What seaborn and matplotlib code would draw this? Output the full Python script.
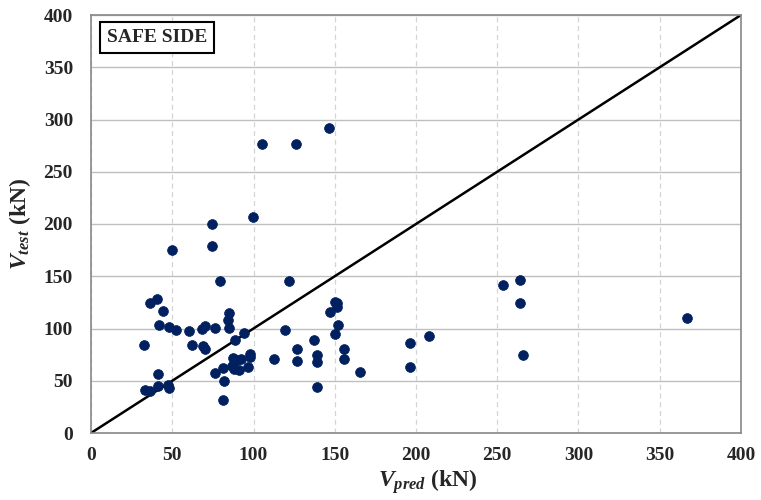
import matplotlib
matplotlib.use('Agg')
import matplotlib.pyplot as plt
import seaborn as sns
import pandas as pd

# Predicted vs. tested shear capacity (kN)
v_pred = [33.2, 36.3, 41.4, 47.6, 48.2, 41.4, 32.8, 36.3, 40.4, 44.0,
          41.8, 48.2, 52.3, 60.0, 62.2, 69.1, 69.9, 68.5, 70.2, 76.5,
          79.4, 84.9, 84.5, 84.9, 88.6, 94.0, 97.8, 97.8, 112.6, 76.5,
          81.4, 81.8, 81.4, 87.6, 89.6, 92.3, 86.6, 88.2, 91.3, 96.4,
          122.0, 150.2, 151.6, 151.2, 147.1, 152.0, 150.0, 119.4, 137.4, 127.0,
          127.0, 138.9, 138.9, 138.9, 155.9, 155.9, 165.5, 49.8, 74.7, 74.7,
          99.5, 105.0, 126.2, 146.7, 196.3, 196.3, 208.0, 253.7, 263.8, 263.8,
          265.8, 366.5]
v_test = [41.1, 40.5, 45.0, 46.0, 42.7, 56.0, 84.0, 124.7, 128.0, 116.7,
          103.3, 101.0, 99.0, 97.6, 84.0, 83.0, 80.0, 99.5, 102.4, 100.8,
          145.7, 114.5, 108.0, 100.2, 89.0, 95.4, 76.0, 73.0, 71.1, 57.7,
          62.0, 49.8, 31.6, 72.0, 69.9, 70.8, 64.0, 61.0, 60.3, 62.9,
          145.7, 125.6, 124.0, 120.9, 116.0, 103.3, 94.7, 98.6, 89.0, 80.0,
          69.2, 74.3, 68.2, 44.3, 80.0, 70.5, 58.0, 175.0, 200.0, 179.0,
          206.4, 276.3, 276.6, 292.2, 86.4, 62.9, 92.8, 141.3, 146.7, 124.4,
          74.6, 110.3]

ticks = [0, 50, 100, 150, 200, 250, 300, 350, 400]

df = pd.DataFrame({'v_pred': v_pred, 'v_test': v_test})

sns.set_style('white')
plt.rcParams['font.family'] = ['Liberation Serif', 'DejaVu Serif']
plt.rcParams['font.weight'] = 'bold'
plt.rcParams['mathtext.fontset'] = 'custom'
plt.rcParams['mathtext.rm'] = 'Liberation Serif:bold'
plt.rcParams['mathtext.it'] = 'Liberation Serif:bold:italic'
plt.rcParams['mathtext.bf'] = 'Liberation Serif:bold'

fig = plt.figure(figsize=(7.61, 5.0), dpi=100)
ax = fig.add_axes([0.1196, 0.134, 0.8541, 0.836])

# grid: solid horizontal, dashed vertical
for t in ticks:
    ax.axhline(t, color='#bfbfbf', lw=1.0, zorder=0)
    ax.axvline(t, color='#d4d4d4', lw=0.9, ls=(0, (4, 3)), zorder=0)

# 1:1 line
ax.axline((0, 0), slope=1, color='black', lw=1.8, zorder=2)

sns.scatterplot(data=df, x='v_pred', y='v_test', ax=ax, color='#002060',
                s=50, edgecolor='#002060', linewidth=0.5, zorder=3)

ax.set_xlim(0, 400)
ax.set_ylim(0, 400)
ax.set_xticks(ticks)
ax.set_yticks(ticks)
ax.tick_params(axis='both', direction='out', length=5, width=1, color='#888888',
               labelsize=14)
ax.tick_params(axis='y', pad=8)
ax.tick_params(axis='x', pad=5)
for lab in ax.get_xticklabels() + ax.get_yticklabels():
    lab.set_fontweight('bold')

for side in ['left', 'bottom', 'right', 'top']:
    ax.spines[side].set_color('#888888')
    ax.spines[side].set_linewidth(1.2)

ax.set_xlabel(r'$V_{pred}$ (kN)', fontsize=17, fontweight='bold')
ax.set_ylabel(r'$V_{test}$ (kN)', fontsize=17, fontweight='bold')
ax.xaxis.set_label_coords(0.518, -0.082)
ax.yaxis.set_label_coords(-0.089, 0.5)

ax.text(0.024, 0.966, 'SAFE SIDE', transform=ax.transAxes, fontsize=14,
        fontweight='bold', va='top', ha='left',
        bbox=dict(boxstyle='square,pad=0.35', facecolor='white',
                  edgecolor='black', linewidth=1.5))

fig.savefig('out.png', dpi=100)
